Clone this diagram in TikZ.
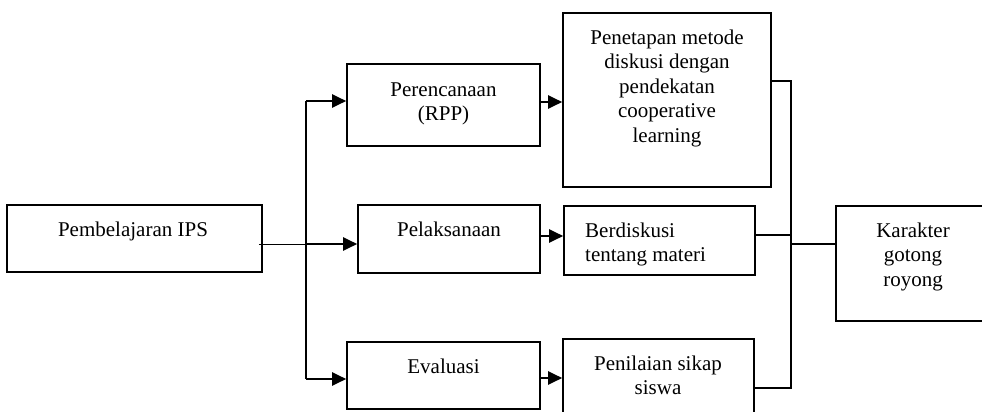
\documentclass[tikz,border=0pt]{standalone}
\usepackage{fontspec}
\setmainfont{Liberation Serif}
\usetikzlibrary{arrows.meta,calc}
\tikzset{
  boxst/.style={draw,line width=1.6pt,inner sep=0pt,rectangle},
  txt/.style={font=\fontsize{21}{24.5}\selectfont,align=center,inner sep=0pt,anchor=north},
  conn/.style={line width=1.5pt},
  thinconn/.style={line width=1pt},
  arr/.style={line width=2pt,-{Triangle[length=14pt,width=13pt]}},
}
\begin{document}
\begin{tikzpicture}[x=1pt,y=-1pt]
\useasboundingbox (0,0) rectangle (982,412);
% boxes
\node[boxst,minimum width=255pt,minimum height=67pt] (ips) at (134.5,238.5) {};
\node[boxst,minimum width=193pt,minimum height=82pt] (perc) at (443.5,105) {};
\node[boxst,minimum width=182pt,minimum height=68pt] (pel) at (449,239) {};
\node[boxst,minimum width=193pt,minimum height=67pt] (eva) at (443.5,375.5) {};
\node[boxst,minimum width=208pt,minimum height=174pt] (pen) at (667,100) {};
\node[boxst,minimum width=191pt,minimum height=69pt] (ber) at (659.5,240.5) {};
\node[boxst,minimum width=191pt,minimum height=77pt] (nil) at (658.5,377.5) {};
\node[boxst,minimum width=154pt,minimum height=115pt] (kar) at (913,263.5) {};
% texts
\node[txt] (tips) at (133,219.35) {\strut Pembelajaran IPS};
\node[txt] (tperc) at (443.5,78.85) {\strut Perencanaan\\(RPP)};
\node[txt] (tpel) at (449,218.85) {\strut Pelaksanaan};
\node[txt] (teva) at (443.5,355.85) {\strut Evaluasi};
\node[txt] (tpen) at (667,26.85) {\strut Penetapan metode\\diskusi dengan\\pendekatan\\cooperative\\learning};
\node[txt,align=left,anchor=north west] (tber) at (585,219.85) {\strut Berdiskusi\\tentang materi};
\node[txt] (tnil) at (658,352.85) {\strut Penilaian sikap\\siswa};
\node[txt] (tkar) at (913,219.85) {\strut Karakter\\gotong\\royong};
% left connectors
\coordinate (jin) at (306,244);
\coordinate (ttop) at (306,101);
\coordinate (tbot) at (306,379);
\draw[thinconn] ($(ips.east|-jin)+(-4,0)$) -- (jin);
\draw[conn] (ttop) -- (tbot);
\draw[arr] (ttop) -- (perc.west|-ttop);
\draw[arr] (jin) -- (pel.west|-jin);
\draw[arr] (tbot) -- (eva.west|-tbot);
% middle arrows
\draw[arr] ($(perc.east)+(0,-3)$) -- ($(pen.west|-perc.east)+(0,-3)$);
\draw[arr] ($(pel.east)+(0,-3)$) -- ($(ber.west|-pel.east)+(0,-3)$);
\draw[arr] ($(eva.east)+(0,2.5)$) -- ($(nil.west|-eva.east)+(0,2.5)$);
% right connectors
\coordinate (rtop) at (791,81);
\coordinate (rbot) at (791,388);
\coordinate (rber) at (791,235);
\coordinate (rmid) at (791,244);
\draw[conn] (pen.east|-rtop) -- (rtop) -- (rbot) -- (nil.east|-rbot);
\draw[conn] (ber.east|-rber) -- (rber);
\draw[conn] (rmid) -- (kar.west|-rmid);
\end{tikzpicture}
\end{document}
